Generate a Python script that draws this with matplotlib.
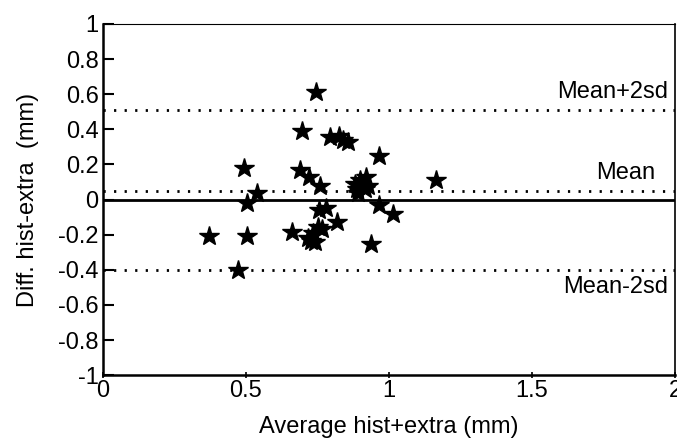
import matplotlib
matplotlib.use("Agg")
import matplotlib.pyplot as plt

avg = [0.744, 0.695, 0.794, 0.825, 0.840, 0.858, 0.966, 0.493, 0.690, 0.720,
       0.760, 0.537, 0.505, 0.900, 0.920, 0.887, 0.916, 0.893, 0.928, 1.164,
       0.966, 1.013, 0.755, 0.780, 0.820, 0.372, 0.505, 0.660, 0.735, 0.753,
       0.765, 0.718, 0.741, 0.728, 0.936, 0.473, 0.880]
diff = [0.61, 0.39, 0.355, 0.36, 0.34, 0.33, 0.25, 0.18, 0.17, 0.13,
        0.08, 0.04, -0.02, 0.11, 0.13, 0.06, 0.06, 0.04, 0.08, 0.11,
        -0.03, -0.08, -0.06, -0.05, -0.13, -0.205, -0.21, -0.185, -0.19, -0.155,
        -0.165, -0.22, -0.24, -0.235, -0.255, -0.40, 0.09]

mean_val = 0.05
upper = 0.51
lower = -0.40
line_labels = ["Mean+2sd", "Mean", "Mean-2sd"]
xticks = [0, 0.5, 1, 1.5, 2]
xticklabels = ["0", "0.5", "1", "1.5", "2"]
yticks = [1, 0.8, 0.6, 0.4, 0.2, 0, -0.2, -0.4, -0.6, -0.8, -1]
yticklabels = ["1", "0.8", "0.6", "0.4", "0.2", "0", "-0.2", "-0.4", "-0.6", "-0.8", "-1"]

plt.rcParams['font.family'] = ['Liberation Sans', 'DejaVu Sans']
FS = 17

fig = plt.figure(figsize=(6.77, 4.44), dpi=100)
ax = fig.add_axes([0.152, 0.155, 0.845, 0.791])

ax.axhline(0, color='black', lw=2.0, zorder=2)
for v in (upper, mean_val, lower):
    ax.axhline(v, color='black', lw=2.0, linestyle=(0, (0.8, 3.0)), zorder=2)

ax.plot(avg, diff, linestyle='none', marker='*', markersize=15,
        color='black', zorder=3)

ax.text(1.975, upper + 0.04, line_labels[0], ha='right', va='bottom', fontsize=FS)
ax.text(1.93, mean_val + 0.04, line_labels[1], ha='right', va='bottom', fontsize=FS)
ax.text(1.975, lower - 0.035, line_labels[2], ha='right', va='top', fontsize=FS)

ax.set_xlim(0, 2)
ax.set_ylim(-1, 1)
ax.set_xticks(xticks)
ax.set_xticklabels(xticklabels, fontsize=FS)
ax.set_yticks(yticks)
ax.set_yticklabels(yticklabels, fontsize=FS)
ax.tick_params(axis='y', direction='in', length=8, width=1.5, pad=3)
ax.tick_params(axis='x', direction='inout', length=5, width=1.2, pad=1)

ax.spines['left'].set_linewidth(1.8)
ax.spines['bottom'].set_linewidth(1.8)
ax.spines['top'].set_linewidth(0.8)
ax.spines['right'].set_linewidth(1.2)

ax.set_xlabel("Average hist+extra (mm)", fontsize=FS, labelpad=10)
ax.set_ylabel("Diff. hist-extra  (mm)", fontsize=FS, labelpad=14)

fig.savefig("out.png", dpi=100)
